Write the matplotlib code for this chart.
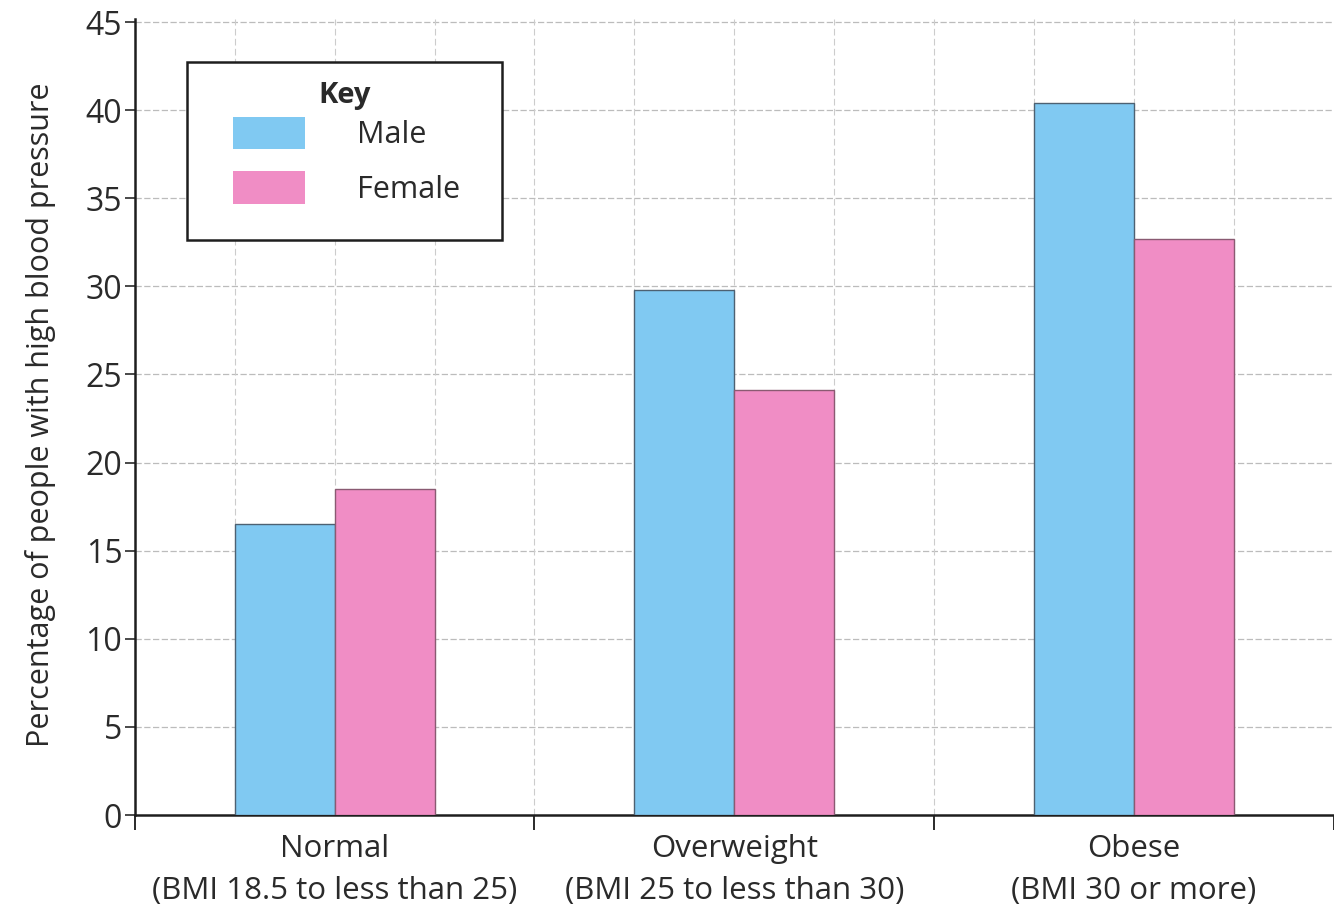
import matplotlib
matplotlib.use("Agg")
import matplotlib.pyplot as plt
from matplotlib.patches import Patch, Rectangle
import numpy as np

# data
categories = ["Normal\n(BMI 18.5 to less than 25)",
              "Overweight\n(BMI 25 to less than 30)",
              "Obese\n(BMI 30 or more)"]
male = [16.5, 29.8, 40.4]
female = [18.5, 24.1, 32.7]
y_ticks = [0, 5, 10, 15, 20, 25, 30, 35, 40, 45]

blue = "#80c9f2"
pink = "#f08dc5"
text_col = "#2a2a2a"

plt.rcParams['font.family'] = ['Open Sans', 'DejaVu Sans']

fig = plt.figure(figsize=(13.34, 9.13), dpi=100)
ax = fig.add_axes([0.101, 0.1073, 0.899, 0.8724])

x = np.arange(len(categories))
bw = 0.25
ax.bar(x + 0.25, male, width=bw, align='edge', color=blue,
       edgecolor="#4d6172", linewidth=1.0, zorder=3, label="Male")
ax.bar(x + 0.5, female, width=bw, align='edge', color=pink,
       edgecolor="#8a5a72", linewidth=1.0, zorder=3, label="Female")

ax.set_xlim(0, 3)
ax.set_ylim(0, 45.2)

# grid: horizontal every 5, vertical every quarter category
for yv in y_ticks[1:]:
    ax.axhline(yv, color="#bcbcbc", lw=0.9, ls=(0, (5, 2)), zorder=1)
for xv in np.arange(0.25, 3.0, 0.25):
    ax.axvline(xv, color="#cccccc", lw=0.8, ls=(0, (6, 3)), zorder=1)

ax.set_yticks(y_ticks)
ax.set_yticklabels([str(v) for v in y_ticks], fontsize=23, color=text_col)
ax.tick_params(axis='y', direction='out', length=7, width=1.2, pad=2, colors=text_col)

ax.set_xticks(x + 0.5)
ax.set_xticklabels(categories, fontsize=22.5, color=text_col, linespacing=1.5)
ax.tick_params(axis='x', which='major', length=0, pad=14)
ax.set_xticks([0, 1, 2, 3], minor=True)
ax.tick_params(axis='x', which='minor', direction='out', length=11, width=1.4,
               color=text_col)

for s in ['top', 'right']:
    ax.spines[s].set_visible(False)
for s in ['left', 'bottom']:
    ax.spines[s].set_linewidth(1.8)
    ax.spines[s].set_color("#1e1e1e")

ax.set_ylabel("Percentage of people with high blood pressure", fontsize=22,
              color=text_col)
ax.yaxis.set_label_coords(-0.066, 0.502)

# key: boxed frame, bold title, then the swatches
ax.add_patch(Rectangle((0.0434, 0.7219), 0.2627, 0.2235, transform=ax.transAxes,
                       facecolor="white", edgecolor="#1e1e1e", linewidth=1.8,
                       zorder=4))
ax.text(0.175, 0.894, "Key", transform=ax.transAxes, ha='center', va='baseline',
        fontsize=21, fontweight='bold', color=text_col, zorder=6)
handles = [Patch(facecolor=blue, edgecolor='none', label="Male"),
           Patch(facecolor=pink, edgecolor='none', label="Female")]
leg = ax.legend(handles=handles, loc='upper left',
                bbox_to_anchor=(0.0817, 0.877), fontsize=22,
                frameon=False, handlelength=2.35, handleheight=1.28,
                handletextpad=1.73, labelspacing=0.69, borderpad=0,
                borderaxespad=0)
leg.set_zorder(5)
for t in leg.get_texts():
    t.set_color(text_col)

fig.savefig("out.png", dpi=100, facecolor="white")
